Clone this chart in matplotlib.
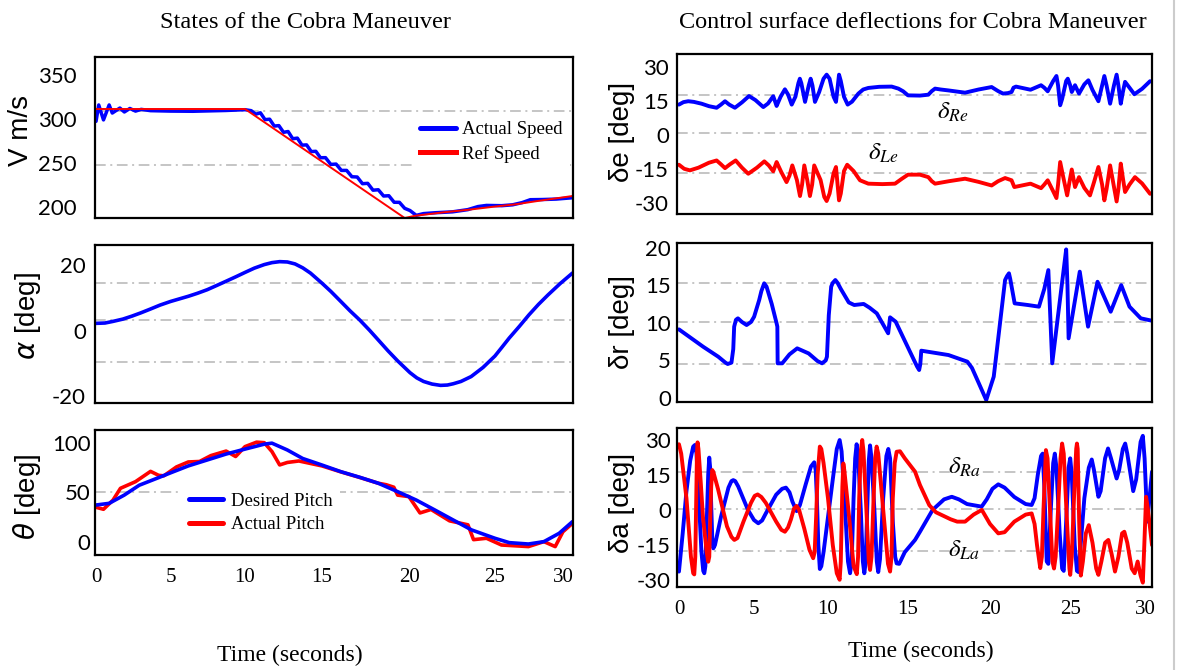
import numpy as np
import matplotlib
matplotlib.use("Agg")
import matplotlib.pyplot as plt
from matplotlib.lines import Line2D

plt.rcParams['axes.unicode_minus'] = False

# ---------------- data ----------------
# Speed
v_ref_t = [0, 10, 19.7, 20.3, 22.0, 23.5, 25.0, 26.5, 28.0, 30.7]
v_ref = [311.4, 311.4, 187.5, 190, 194, 197, 200.5, 203, 206.5, 212.5]
v_act_t = [0, 0.18, 0.5, 0.88, 1.09, 1.6, 1.9, 2.27, 2.65, 3.03, 3.66, 5.0, 6.5, 8.7, 10.0,
           10.4, 10.7, 11.0, 11.3, 11.6, 11.9, 12.2, 12.5, 12.8, 13.1, 13.4, 13.7, 14.0, 14.3,
           14.6, 14.9, 15.2, 15.5, 15.8, 16.1, 16.4, 16.7, 17.0, 17.3, 17.6, 17.9, 18.2, 18.5,
           18.8, 19.1, 19.4, 19.7, 20.0, 20.37, 20.8, 21.5, 22.5, 23.4, 24.0, 24.5, 25.5, 26.3,
           27.0, 27.6, 28.5, 29.5, 30.7]
v_act = [297.4, 316, 299, 316, 306.8, 312.5, 308, 312, 309, 311, 309.5, 309, 308.8, 309.7, 310.6,
         309.5, 305.5, 307.1, 299.3, 299.8, 292.0, 292.5, 284.9, 285.8, 277.6, 278.3, 270.3, 270.6, 263.0,
         263.3, 256.0, 256.1, 248.4, 248.8, 241.6, 241.6, 234.4, 234.1, 226.5, 226.9, 219.1, 219.6, 212.5,
         212.8, 205.4, 205.3, 198.5, 196, 190.5, 192.5, 193.5, 194.5, 197, 200.5, 201.8, 201.5, 202.5,
         205, 208.3, 208.5, 209, 210.5]

# Angle of attack
alpha_t = [0, 0.6, 1.14, 1.8, 2.4, 3.0, 3.66, 4.3, 5.0, 5.6, 6.2, 6.8, 7.46, 8.1, 8.73, 9.4, 10,
           10.6, 11.25, 11.75, 12.25, 12.75, 13.25, 13.75, 14.25, 15, 15.5, 16.07, 16.6, 17.15, 17.7,
           18.2, 18.75, 19.3, 20, 20.4, 20.8, 21.3, 21.8, 22.2, 22.55, 23.0, 23.6, 24.3, 25, 25.5,
           26.05, 26.8, 27.5, 28.2, 28.9, 29.8, 30.7]
alpha = [2.2, 2.3, 2.8, 3.5, 4.4, 5.4, 6.6, 7.8, 8.9, 9.7, 10.5, 11.4, 12.5, 13.8, 15.1, 16.5, 17.8,
         19.1, 20.2, 20.8, 21.1, 21.0, 20.4, 19.2, 17.6, 14.5, 12.0, 8.9, 6.0, 3.2, 0.1,
         -2.9, -6.2, -9.3, -12.9, -14.5, -15.6, -16.4, -16.8, -16.7, -16.3, -15.6, -14.1, -11.3, -7.8, -5.2,
         -2.3, 1.3, 4.8, 8.0, 10.9, 14.4, 17.6]

# Pitch
th_des_t = [0, 0.88, 1.89, 2.9, 4.17, 5, 6.19, 7.46, 8.73, 10, 11.25, 11.75, 12.75, 13.75, 15,
            16.07, 17.15, 18.2, 19.3, 20.37, 21.46, 22.54, 23.63, 25, 26.05, 27.46, 28.6, 29.72, 30.7]
th_des = [37, 38.7, 47, 57, 64.5, 69.5, 76.5, 82.5, 88.5, 93.5, 98.5, 99.5, 92.6, 84, 77.4,
          70.7, 65, 59, 50.5, 42, 32, 21.9, 11.8, 3.4, -1, -2.4, 0, 8.4, 20.2]
th_act_t = [0, 0.5, 1.14, 1.64, 2.65, 3.66, 4.2, 4.55, 5.4, 6.19, 6.95, 7.72, 8.73, 9.37, 10,
            10.75, 11.25, 11.75, 12.25, 12.75, 13.5, 15, 16.07, 17.15, 18.2, 18.65, 19.08, 19.3,
            19.94, 20.59, 21.24, 22.33, 23.41, 23.74, 24.5, 25.48, 27.46, 28.6, 29.43, 30, 30.7]
th_act = [34.7, 32.7, 42, 53.9, 60.6, 71, 67, 66.5, 75.5, 80.5, 81, 87, 91.5, 86, 96,
          100.5, 100, 91, 77.5, 80, 81.5, 76.5, 70.5, 64.8, 59, 57.5, 55, 47,
          45.5, 29, 32.5, 21, 17, 2, 3.4, -3.4, -5, 0, -5, 10, 18.5]

# Elevator deflections
de_r_t = [0, 0.3, 0.62, 1.0, 1.51, 2.0, 2.51, 2.8, 3.07, 3.35, 3.73, 4.2, 4.67, 5.1, 5.63, 5.95, 6.3,
          6.42, 6.53, 6.8, 7.09, 7.3, 7.55, 7.8, 8.0, 8.1, 8.2, 8.45, 8.7, 8.83, 8.95, 9.12, 9.4, 9.7,
          9.91, 10.1, 10.35, 10.5, 10.6, 10.69, 10.8, 11.0, 11.23, 11.5, 11.9, 12.2, 12.52, 13.2, 13.98,
          14.4, 14.7, 15.0, 15.73, 16.24, 16.45, 16.65, 17.0, 17.46, 18.48, 19.3, 20.1, 20.5, 20.8, 21.1,
          21.33, 21.45, 21.6, 22.5, 23.15, 23.35, 23.56, 23.9, 24.1, 24.2, 24.33, 24.45, 24.7, 24.8,
          24.95, 25.05, 25.27, 25.54, 25.9, 26.17, 26.45, 26.85, 27.1, 27.25, 27.4, 27.64, 27.9, 28.08,
          28.2, 28.36, 28.5, 28.65, 28.95, 29.28, 29.8, 30.34]
de_r = [13.5, 14.6, 15.0, 14.7, 13.9, 12.8, 12.1, 13.5, 15.0, 13.5, 12.1, 14.5, 17.3, 15.5, 12.4, 14, 17.2,
        15, 12.9, 17, 20.3, 18, 13.5, 17, 23, 25.0, 23, 14.7, 22, 25.0, 22, 14.7, 19, 25,
        26.8, 25, 17, 14.7, 21, 26.8, 24, 17, 13.5, 14.8, 18.4, 20.2, 20.9, 21.4, 21.5,
        20.6, 19.4, 17.6, 17.5, 17.9, 19.5, 20.6, 20.2, 19.8, 18.8, 20.2, 21.3, 19.5, 18.4, 18.6,
        19.1, 21, 21.5, 20.1, 22.1, 21, 19.4, 24, 26.2, 22, 13.2, 16, 24, 25.0,
        22, 19.1, 22.1, 18.4, 22.5, 24.3, 20, 15.0, 22, 26.2, 22, 13.9, 22, 26.8,
        22, 13.9, 19, 23.6, 21, 18.1, 20.5, 23.9]
de_l_t = [0, 0.35, 0.73, 1.3, 2.0, 2.51, 2.8, 3.07, 3.4, 3.78, 4.2, 4.62, 5.2, 5.7, 6.0, 6.3, 6.42,
          6.53, 6.85, 7.2, 7.4, 7.59, 7.9, 8.11, 8.25, 8.4, 8.6, 8.78, 8.93, 9.07, 9.5, 9.75, 9.91,
          10.1, 10.35, 10.5, 10.6, 10.69, 10.8, 11.0, 11.2, 11.6, 12.0, 12.52, 13.4, 14.19, 14.6, 15.0,
          15.73, 16.24, 16.45, 16.65, 17.5, 18.48, 19.3, 20.1, 20.5, 20.93, 21.33, 21.5, 22.5, 23.15,
          23.35, 23.56, 23.9, 24.1, 24.2, 24.33, 24.5, 24.76, 24.9, 25.05, 25.27, 25.54, 25.9, 26.28,
          26.55, 26.85, 27.1, 27.25, 27.4, 27.64, 27.9, 28.08, 28.2, 28.36, 28.5, 28.65, 28.95, 29.32,
          29.8, 30.34]
de_l = [-13.2, -15, -15.7, -14.5, -12.3, -11.3, -13, -14.7, -13, -11.3, -14.5, -17.2, -14.5, -11.7, -13.5, -16.1, -14,
        -12.0, -16.5, -20.9, -18, -13.5, -20, -27.1, -22, -13.5, -20, -27.1, -22, -13.5, -20, -27.5, -29.3,
        -26, -17, -14.2, -22, -29.0, -26, -16, -13.2, -16, -20.1, -21.6, -21.8, -21.6, -19.5, -17.6,
        -17.6, -18.7, -20.5, -21.6, -20.5, -19.4, -20.8, -22.4, -20.5, -19.1, -20.1, -23.1, -21.6, -23.6,
        -22, -20.1, -25, -28.0, -22, -12.0, -18, -26.8, -21, -15.3, -23.1, -18.7, -23.5, -26.8,
        -21, -14.2, -22, -29.0, -24, -13.5, -23, -29.5, -24, -12.7, -19, -25.3, -22, -18.7,
        -21.5, -26.1]

# Rudder
dr_t = [0, 1.61, 2.62, 3.1, 3.25, 3.5, 3.62, 3.68, 3.8, 3.93, 4.2, 4.51, 4.8, 5.01, 5.35, 5.5, 5.69,
        5.85, 6.2, 6.53, 6.58, 6.6, 6.91, 7.4, 7.92, 8.69, 9.3, 9.6, 9.85, 9.93, 10.05, 10.2, 10.3,
        10.46, 10.6, 10.8, 11.3, 11.64, 12.23, 12.6, 13.05, 13.76, 13.83, 13.88, 14.23, 15.17, 15.55,
        15.68, 15.75, 15.81, 17.47, 18.62, 18.9, 19.32, 19.77, 20.23, 20.93, 21.05, 21.17, 21.25, 21.52,
        22.33, 23.02, 23.35, 23.6, 23.84, 24.2, 24.6, 24.7, 24.78, 24.85, 25.59, 26.15, 26.79, 27.68,
        28.39, 28.95, 29.71, 30.47]
dr = [9.12, 6.82, 5.49, 4.7, 4.52, 4.7, 6.5, 9.48, 10.4, 10.59, 10.1, 9.7, 10.1, 10.8, 13, 14.2, 15.24,
      14.8, 12.5, 9.92, 9.48, 4.61, 4.61, 5.8, 6.6, 5.93, 4.9, 4.61, 5.0, 5.49, 11, 14.8, 15.3,
      15.68, 15.3, 14.5, 12.7, 12.36, 12.5, 12.0, 11.25, 8.6, 9.8, 10.72, 10.14, 5.93, 4.2,
      3.72, 4.5, 6.29, 5.71, 4.83, 4.0, 1.95, -0.27, 2.84, 15.68, 16.2, 16.57, 15.8, 12.58,
      12.36, 12.14, 14.5, 17.0, 4.61, 11, 18, 19.75, 15, 7.93, 16.79, 9.48, 15.45, 11.47,
      15.0, 12.14, 10.59, 10.27]

# Aileron deflections
da_r_t = [0, 0.25, 0.5, 0.75, 0.95, 1.07, 1.17, 1.3, 1.5, 1.62, 1.69, 1.76, 1.85, 1.95, 2.02, 2.08,
          2.15, 2.22, 2.29, 2.4, 2.8, 3.3, 3.5, 3.62, 3.75, 3.95, 4.6, 5.0, 5.29, 5.55, 5.8, 6.5, 6.9,
          7.16, 7.4, 7.6, 7.88, 8.1, 8.5, 8.85, 9.07, 9.17, 9.25, 9.35, 9.45, 9.55, 9.7, 10.0, 10.3,
          10.55, 10.73, 10.85, 11.05, 11.25, 11.38, 11.48, 11.6, 11.7, 11.79, 11.88, 12.05, 12.18, 12.27,
          12.36, 12.45, 12.55, 12.63, 12.72, 12.9, 13.05, 13.14, 13.25, 13.45, 13.65, 13.77, 13.88, 14.05,
          14.2, 14.29, 14.45, 14.8, 15.43, 15.73, 16.5, 17.2, 17.67, 18.1, 18.6, 19.49, 19.8, 20.15,
          20.51, 20.9, 21.5, 22.2, 22.57, 22.75, 22.95, 23.15, 23.25, 23.35, 23.5, 23.6, 23.75, 23.9,
          24.0, 24.1, 24.3, 24.45, 24.55, 24.7, 24.85, 24.95, 25.05, 25.25, 25.4, 25.5, 25.65, 25.9,
          26.2, 26.4, 26.55, 26.85, 27.0, 27.3, 27.5, 27.7, 28.08, 28.25, 28.5, 28.66, 28.8, 29.2, 29.4,
          29.7, 29.85, 29.97, 30.15, 30.3, 30.47]
da_r = [-26.3, -10, 8, 21, 27, 27.7, 24, 8, -18, -26, -27, -24, -5, 15, 22.3, 18,
        2, -12, -16.4, -15, -3, 9.5, 12.3, 12.7, 12.3, 10, 0, -4.3, -5.7, -4.5, -1.5, 6.5, 9.0,
        9.5, 7.5, 3.5, -0.5, 2, 11, 18.5, 20.3, 17, 5, -15, -25.2, -24, -18, -3, 13,
        26, 29.8, 25, 3, -22, -27, -22, 5, 22, 28, 24, 0, -22, -27,
        -22, 0, 21, 27.5, 22, 0, -22, -26.5, -21, 5, 23, 26, 22, -5,
        -20, -22.8, -23, -18, -12.8, -9.3, 0, 4.5, 5.6, 4.5, 2.5, 1.4, 4.5, 9,
        10.9, 9.5, 5.5, 2.5, 2.1, 5, 15, 23, 24, 10, -22, -23, 0, 20,
        24, 18, -10, -25, -26, -5, 18, 22, 15, -15, -26, -26.5, -15, 5,
        18, 21.5, 17, 5.6, 8, 22, 26.2, 22, 13.4, 17, 26, 28.3, 24, 8, 13,
        29, 31.6, 22, -5, 5, 16.3]
da_l_t = [0, 0.15, 0.5, 0.8, 0.95, 1.02, 1.09, 1.15, 1.2, 1.24, 1.3, 1.45, 1.6, 1.85, 1.95, 2.02,
          2.08, 2.15, 2.22, 2.3, 2.6, 3.2, 3.5, 3.69, 3.9, 4.3, 4.8, 5.05, 5.25, 5.5, 5.8, 6.5, 6.85,
          7.09, 7.3, 7.5, 7.7, 7.88, 8.05, 8.4, 8.75, 9.0, 9.1, 9.2, 9.3, 9.45, 9.55, 9.7, 10.0, 10.3,
          10.55, 10.73, 10.8, 10.85, 10.9, 10.96, 11.02, 11.35, 11.6, 11.8, 11.88, 11.95, 12.05, 12.14,
          12.22, 12.4, 12.55, 12.63, 12.72, 12.85, 12.95, 13.04, 13.14, 13.45, 13.75, 13.88, 13.97, 14.05,
          14.17, 14.29, 14.5, 14.8, 15.43, 15.73, 16.3, 16.7, 17.06, 17.6, 18.0, 18.48, 19.0, 19.5, 20.0,
          20.51, 20.9, 21.5, 22.2, 22.57, 22.75, 22.9, 23.1, 23.2, 23.3, 23.45, 23.55, 23.7, 23.85,
          23.95, 24.05, 24.2, 24.35, 24.45, 24.55, 24.75, 24.9, 24.95, 25.05, 25.2, 25.35, 25.4, 25.45,
          25.55, 25.66, 25.8, 26.0, 26.2, 26.45, 26.7, 26.85, 27.05, 27.3, 27.52, 27.75, 27.97, 28.2,
          28.45, 28.6, 28.8, 29.1, 29.3, 29.5, 29.7, 29.85, 29.95, 30.07, 30.2, 30.47]
da_l = [28, 24, 5, -20, -27, -27.5, -20, 5, 24, 28.8, 26, 12, -3, -18, -22.1, -20,
        -5, 10, 17, 16, 9, -7, -11.5, -12.8, -12, -5, 3, 6, 6.6, 5.5, 3, -5, -8.5,
        -9.3, -7.5, -4, 0.5, 1.7, 0, -8, -17, -20.6, -18, -3, 15, 27, 26, 20, 5, -15,
        -27, -29.8, -22, -5, 10, 19.8, 17, -5, -24, -27.4, -20, 5, 25, 29.8,
        25, 0, -22, -25.6, -20, 5, 22, 27, 24, 0, -23, -26.3, -20, 5,
        20, 24.8, 25, 22, 16.3, 10.6, 2, -1, -2.2, -4, -5, -5, -2, 0, -6,
        -10, -9.5, -5, -2, -1.5, -6, -15, -24.8, -20, 0, 25.5, 22, 0, -22,
        -25, -20, 0, 22, 28.3, 24, -5, -25, -27.7, -20, 5, 26, 28.3, 26,
        -5, -28, -22, -10, -6.5, -14, -25, -27.7, -22, -14, -12.8, -19, -26.3, -20,
        -10, -9.3, -14, -25, -27, -22, -28, -31, -15, 5.6, 0, -15]

time_ticks = [0, 5, 10, 15, 20, 25, 30]

# ---------------- layout helpers ----------------
W, H = 1179, 670
fig = plt.figure(figsize=(W / 100, H / 100), dpi=100)

BLUE = '#0000ff'
RED = '#ff0000'
GRID = '#b5b5b5'
SERIF = 'Liberation Serif'
SANS = 'Liberation Sans'
TICKF = 'Lato'


def make_scale(knot_px):
    kt = np.asarray(time_ticks, float)
    kp = np.asarray(knot_px, float)
    s0 = (kp[1] - kp[0]) / (kt[1] - kt[0])
    s1 = (kp[-1] - kp[-2]) / (kt[-1] - kt[-2])
    kt_e = np.concatenate([[kt[0] - 100], kt, [kt[-1] + 100]])
    kp_e = np.concatenate([[kp[0] - 100 * s0], kp, [kp[-1] + 100 * s1]])
    return (lambda t: np.interp(t, kt_e, kp_e)), (lambda p: np.interp(p, kp_e, kt_e))


left_scale = make_scale([96, 170.5, 245, 322, 410, 495, 563])
right_scale = make_scale([679, 754, 828, 908, 990, 1071, 1145])


def panel(x0, x1, ytop, ybot, scale, xlim, ylim, yticks, ygrid, ypad, bottom_labels):
    ax = fig.add_axes([x0 / W, 1 - ybot / H, (x1 - x0) / W, (ybot - ytop) / H])
    ax.set_xscale('function', functions=scale)
    ax.set_xlim(*xlim)
    ax.set_ylim(*ylim)
    ax.set_xticks(time_ticks)
    ax.set_xticks([5, 10, 15, 20, 25], minor=True)
    ax.set_yticks(yticks)
    ax.set_yticks(ygrid, minor=True)
    ax.grid(False, which='major')
    ax.grid(True, which='minor', color=GRID, lw=1.1, linestyle=(0, (7, 3, 1.3, 3)))
    ax.set_axisbelow(True)
    ax.tick_params(which='both', length=0)
    ax.tick_params(axis='y', pad=ypad)
    ax.tick_params(axis='x', pad=9)
    for lab in ax.get_yticklabels():
        lab.set_fontfamily(TICKF)
        lab.set_fontsize(16)
    if bottom_labels:
        ax.set_xticklabels([str(t) for t in time_ticks], fontfamily=SERIF, fontsize=15)
    else:
        ax.set_xticklabels([])
    for sp in ax.spines.values():
        sp.set_linewidth(1.6)
        sp.set_color('black')
    return ax


LX = (95, 573)
RX = (677, 1152)
LXL = (-0.07, 30.74)
RXL = (-0.13, 30.47)
LW = dict(solid_joinstyle='round', solid_capstyle='round')

# --- left column ---
ax1 = panel(*LX, 57, 218, left_scale, LXL, (187.5, 370.5), [200, 250, 300, 350], [247.7, 309.4], 13, False)
ax1.plot(v_act_t, v_act, color=BLUE, lw=2.5, label='Actual Speed', **LW)
ax1.plot(v_ref_t, v_ref, color=RED, lw=1.4, label='Ref Speed')
ax1.set_ylabel('V m/s', fontfamily=SANS, fontsize=20)
ax1.yaxis.set_label_coords(-0.128, 0.543)
leg1 = ax1.legend(loc='center left', bbox_to_anchor=(0.664, 0.472), prop={'family': SERIF, 'size': 13.5},
                  frameon=True, facecolor='white', edgecolor='none', framealpha=1, fancybox=False,
                  handlelength=1.9, handletextpad=0.35, labelspacing=0.35, borderaxespad=0)
for h in leg1.legend_handles:
    h.set_linewidth(3.6)

ax2 = panel(*LX, 245, 403, left_scale, LXL, (-22.2, 26.2), [-20, 0, 20], [-9.69, 3.27, 14.7], 6.5, False)
ax2.plot(alpha_t, alpha, color=BLUE, lw=2.6, **LW)
ax2.set_ylabel(r'$\alpha$ [deg]', fontfamily=SANS, fontsize=20)
ax2.yaxis.set_label_coords(-0.109, 0.55)

ax3 = panel(*LX, 430, 555, left_scale, LXL, (-13.5, 112.8), [0, 50, 100], [50.5], 3.2, True)
ax3.plot(th_act_t, th_act, color=RED, lw=2.6, label='Actual Pitch', **LW)
ax3.plot(th_des_t, th_des, color=BLUE, lw=2.6, label='Desired Pitch', **LW)
ax3.set_ylabel(r'$\theta$ [deg]', fontfamily=SANS, fontsize=20)
ax3.yaxis.set_label_coords(-0.109, 0.466)
h3, l3 = ax3.get_legend_handles_labels()
leg3 = ax3.legend([h3[1], h3[0]], [l3[1], l3[0]], loc='center left', bbox_to_anchor=(0.181, 0.336),
                  prop={'family': SERIF, 'size': 13.5}, frameon=True, facecolor='white', edgecolor='none',
                  framealpha=1, fancybox=False, handlelength=1.8, handletextpad=0.45, labelspacing=0.35,
                  borderaxespad=0)
for h in leg3.legend_handles:
    h.set_linewidth(3.6)

# --- right column ---
ax4 = panel(*RX, 53.7, 214.3, right_scale, RXL, (-35.2, 36.1), [-30, -15, 0, 15, 30], [-17.0, 1.0, 17.8], 5.8, False)
ax4.plot(de_r_t, de_r, color=BLUE, lw=2.8, **LW)
ax4.plot(de_l_t, de_l, color=RED, lw=2.8, **LW)
ax4.set_ylabel('δe [deg]', fontfamily=SANS, fontsize=20)
ax4.yaxis.set_label_coords(-0.088, 0.512)
ax4.text(0.581, 0.637, r'$\delta_{Re}$', transform=ax4.transAxes, ha='center', va='center',
         fontsize=18, math_fontfamily='stix')
ax4.text(0.435, 0.38, r'$\delta_{Le}$', transform=ax4.transAxes, ha='center', va='center',
         fontsize=18, math_fontfamily='stix')

ax5 = panel(*RX, 242.7, 401.7, right_scale, RXL, (-0.49, 20.64), [0, 5, 10, 15, 20], [4.52, 10.05, 15.32], 4.3, False)
ax5.plot(dr_t, dr, color=BLUE, lw=2.8, **LW)
ax5.set_ylabel('δr [deg]', fontfamily=SANS, fontsize=20)
ax5.yaxis.set_label_coords(-0.088, 0.503)

ax6 = panel(*RX, 428.3, 587.3, right_scale, RXL, (-33.0, 34.8), [-30, -15, 0, 15, 30], [-17.4, 0.26, 16.3], 4.3, True)
ax6.plot(da_r_t, da_r, color=BLUE, lw=2.8, **LW)
ax6.plot(da_l_t, da_l, color=RED, lw=2.8, **LW)
ax6.set_ylabel('δa [deg]', fontfamily=SANS, fontsize=20)
ax6.yaxis.set_label_coords(-0.088, 0.53)
ax6.text(0.604, 0.757, r'$\delta_{Ra}$', transform=ax6.transAxes, ha='center', va='center',
         fontsize=18, math_fontfamily='stix')
ax6.text(0.604, 0.235, r'$\delta_{La}$', transform=ax6.transAxes, ha='center', va='center',
         fontsize=18, math_fontfamily='stix')

# --- figure texts ---
fig.text(305 / W, 1 - 22 / H, 'States of the Cobra Maneuver', ha='center', va='center',
         fontfamily=SERIF, fontsize=17.5)
fig.text(913 / W, 1 - 22 / H, 'Control surface deflections for Cobra Maneuver', ha='center', va='center',
         fontfamily=SERIF, fontsize=17.5)
fig.text(290 / W, 1 - 655 / H, 'Time (seconds)', ha='center', va='center', fontfamily=SERIF, fontsize=17)
fig.text(921 / W, 1 - 651 / H, 'Time (seconds)', ha='center', va='center', fontfamily=SERIF, fontsize=17)

fig.add_artist(Line2D([1174 / W, 1174 / W], [0, 1], transform=fig.transFigure, color='#cccccc', lw=1.5))

fig.savefig('out.png', dpi=100, facecolor='white')
